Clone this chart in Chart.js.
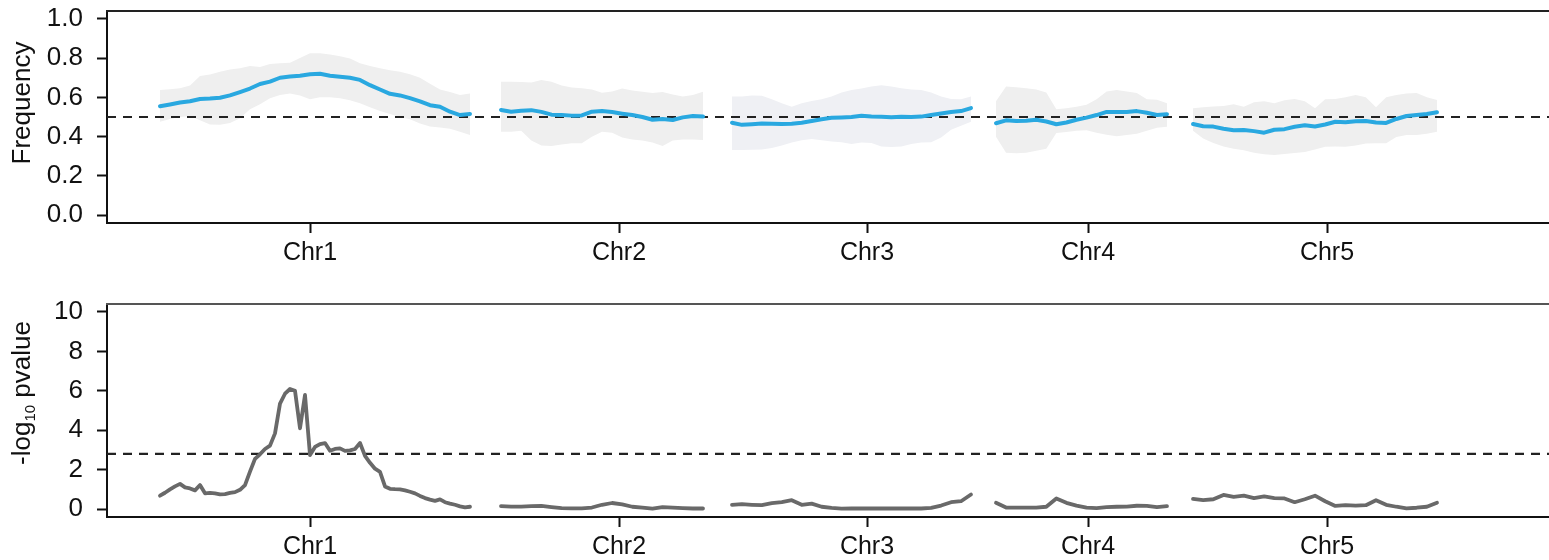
<!DOCTYPE html>
<html>
<head>
<meta charset="utf-8">
<script src="https://cdn.jsdelivr.net/npm/chart.js"></script>
<style>
  body { margin: 0; background: #fff; }
  canvas { display: block; }
</style>
</head>
<body>
<canvas id="freqChart" width="1549" height="280"></canvas>
<canvas id="pvalChart" width="1549" height="280"></canvas>
<script>
// chromosomes laid end to end (Mb) with gaps between them
const chrNames = ['Chr1', 'Chr2', 'Chr3', 'Chr4', 'Chr5'];
const chrTicks = [20.3, 51.2, 76.0, 98.1, 122.0];
const chrStart = [5.3, 39.4, 62.5, 88.9, 108.6];
const chrEnd = [36.3, 59.6, 86.4, 106.0, 133.0];
const xMax = 144.2;

const freqTicks = [0, 0.2, 0.4, 0.6, 0.8, 1.0];
const pvalTicks = [0, 2, 4, 6, 8, 10];
const freqThreshold = 0.5;
const pvalThreshold = 2.8;

// allele frequency (smoothed) and its band
const freqChr1 = [0.555,0.564,0.574,0.580,0.592,0.594,0.598,0.610,0.627,0.645,0.668,0.680,0.700,0.706,0.710,0.718,0.720,0.710,0.705,0.700,0.689,0.662,0.640,0.618,0.610,0.596,0.580,0.560,0.552,0.527,0.510,0.515];
const highChr1 = [0.638,0.642,0.647,0.660,0.709,0.716,0.730,0.742,0.748,0.760,0.755,0.770,0.774,0.776,0.800,0.825,0.825,0.818,0.810,0.798,0.774,0.760,0.748,0.738,0.731,0.718,0.700,0.670,0.640,0.627,0.612,0.620];
const lowChr1 = [0.476,0.490,0.500,0.505,0.484,0.462,0.460,0.470,0.493,0.540,0.565,0.595,0.612,0.620,0.610,0.590,0.600,0.600,0.596,0.585,0.570,0.550,0.530,0.515,0.500,0.488,0.467,0.452,0.447,0.440,0.425,0.408];

const freqChr2 = [0.536,0.527,0.532,0.535,0.526,0.512,0.510,0.507,0.508,0.527,0.530,0.525,0.517,0.510,0.500,0.486,0.490,0.485,0.498,0.505,0.502];
const highChr2 = [0.680,0.680,0.678,0.676,0.689,0.680,0.660,0.650,0.646,0.640,0.623,0.630,0.645,0.635,0.628,0.622,0.627,0.615,0.605,0.612,0.628];
const lowChr2 = [0.425,0.425,0.430,0.380,0.355,0.352,0.360,0.366,0.366,0.400,0.425,0.420,0.395,0.385,0.380,0.370,0.352,0.380,0.386,0.386,0.383];

const freqChr3 = [0.471,0.460,0.463,0.467,0.466,0.464,0.466,0.471,0.480,0.489,0.496,0.498,0.500,0.506,0.502,0.501,0.499,0.501,0.500,0.502,0.510,0.518,0.525,0.530,0.545];
const highChr3 = [0.604,0.605,0.610,0.608,0.590,0.570,0.552,0.570,0.582,0.590,0.605,0.625,0.638,0.645,0.655,0.662,0.655,0.646,0.640,0.638,0.625,0.605,0.592,0.590,0.604];
const lowChr3 = [0.332,0.332,0.333,0.335,0.342,0.355,0.370,0.382,0.388,0.382,0.375,0.372,0.362,0.370,0.368,0.350,0.347,0.350,0.362,0.370,0.372,0.395,0.435,0.455,0.476];

const freqChr4 = [0.468,0.483,0.480,0.481,0.486,0.477,0.463,0.472,0.486,0.497,0.510,0.526,0.525,0.525,0.530,0.522,0.510,0.514];
const highChr4 = [0.580,0.655,0.652,0.646,0.640,0.625,0.540,0.545,0.552,0.562,0.590,0.630,0.637,0.630,0.622,0.590,0.588,0.570];
const lowChr4 = [0.400,0.318,0.315,0.318,0.328,0.338,0.418,0.424,0.430,0.432,0.420,0.410,0.402,0.408,0.415,0.430,0.445,0.450];

const freqChr5 = [0.464,0.453,0.451,0.440,0.432,0.434,0.428,0.420,0.435,0.438,0.450,0.458,0.452,0.462,0.476,0.473,0.478,0.480,0.472,0.470,0.490,0.505,0.510,0.515,0.524];
const highChr5 = [0.544,0.550,0.553,0.556,0.565,0.552,0.575,0.580,0.570,0.585,0.592,0.580,0.545,0.590,0.592,0.600,0.612,0.600,0.550,0.600,0.612,0.620,0.622,0.600,0.587];
const lowChr5 = [0.430,0.390,0.368,0.350,0.338,0.330,0.318,0.310,0.306,0.312,0.316,0.322,0.335,0.349,0.350,0.349,0.355,0.365,0.366,0.366,0.398,0.408,0.408,0.415,0.425];

// -log10 pvalue
const pvalChr1 = [0.68,0.83,1.00,1.15,1.28,1.10,1.05,0.95,1.22,0.80,0.82,0.80,0.75,0.76,0.82,0.86,0.98,1.22,1.90,2.55,2.78,3.05,3.22,3.84,5.35,5.85,6.09,6.00,4.10,5.79,2.74,3.15,3.30,3.35,2.96,3.05,3.08,2.95,2.98,3.05,3.35,2.70,2.35,2.05,1.89,1.15,1.03,1.01,1.00,0.95,0.88,0.80,0.67,0.56,0.48,0.42,0.49,0.35,0.28,0.22,0.14,0.09,0.12];
const pvalChr2 = [0.15,0.13,0.13,0.15,0.16,0.10,0.05,0.04,0.04,0.08,0.22,0.31,0.24,0.12,0.08,0.02,0.10,0.08,0.05,0.03,0.03];
const pvalChr3 = [0.22,0.25,0.22,0.20,0.30,0.35,0.45,0.22,0.28,0.12,0.06,0.02,0.03,0.03,0.03,0.03,0.03,0.03,0.03,0.03,0.06,0.18,0.35,0.40,0.74];
const pvalChr4 = [0.32,0.08,0.08,0.08,0.08,0.12,0.54,0.32,0.18,0.08,0.05,0.10,0.12,0.13,0.17,0.16,0.10,0.15];
const pvalChr5 = [0.52,0.46,0.50,0.72,0.62,0.68,0.56,0.64,0.56,0.54,0.35,0.50,0.68,0.40,0.16,0.20,0.18,0.20,0.45,0.22,0.12,0.04,0.07,0.12,0.32];

const freqData = [freqChr1, freqChr2, freqChr3, freqChr4, freqChr5];
const highData = [highChr1, highChr2, highChr3, highChr4, highChr5];
const lowData = [lowChr1, lowChr2, lowChr3, lowChr4, lowChr5];
const pvalData = [pvalChr1, pvalChr2, pvalChr3, pvalChr4, pvalChr5];
const bandColors = ['#efefef', '#efefef', '#eff0f4', '#efefef', '#efefef'];

const FONT = "'Liberation Sans', Arial, Helvetica, sans-serif";

// windows are evenly spaced along each chromosome
function place(values, c) {
  const n = values.length;
  return values.map((v, i) => ({x: chrStart[c] + (chrEnd[c] - chrStart[c]) * i / (n - 1), y: v}));
}

function line(data, color, width, order) {
  return {data, borderColor: color, borderWidth: width, pointRadius: 0, tension: 0,
    borderCapStyle: 'round', borderJoinStyle: 'round', fill: false, order};
}

function thresholdLine(y) {
  return {data: [{x: 0, y}, {x: xMax, y}], borderColor: '#222', borderWidth: 2.2,
    borderDash: [9, 7], pointRadius: 0, fill: false, order: 1};
}

// top border of the box + y title with optional subscript
const framePlugin = {
  id: 'frame',
  afterDraw(chart, args, opts) {
    const {ctx, chartArea: a} = chart;
    ctx.save();
    ctx.strokeStyle = opts.top;
    ctx.lineWidth = 2;
    ctx.beginPath();
    ctx.moveTo(a.left - 1, a.top);
    ctx.lineTo(a.right, a.top);
    ctx.stroke();

    ctx.translate(opts.x, opts.cy);
    ctx.rotate(-Math.PI / 2);
    ctx.fillStyle = '#111';
    ctx.textBaseline = 'alphabetic';
    ctx.textAlign = 'left';
    let total = 0;
    opts.parts.forEach(p => { ctx.font = p.size + 'px ' + FONT; total += ctx.measureText(p.text).width; });
    let pos = -total / 2;
    opts.parts.forEach(p => {
      ctx.font = p.size + 'px ' + FONT;
      ctx.fillText(p.text, pos, p.dy);
      pos += ctx.measureText(p.text).width;
    });
    ctx.restore();
  }
};

function noOverflow(s) {
  s.paddingTop = 0; s.paddingBottom = 0; s.paddingLeft = 0; s.paddingRight = 0;
}

function xScale(height) {
  return {
    type: 'linear', min: 0, max: xMax,
    afterBuildTicks: s => { s.ticks = chrTicks.map(v => ({value: v})); },
    afterFit: s => { s.height = height; noOverflow(s); },
    ticks: {autoSkip: false, maxRotation: 0, padding: 5, color: '#111',
      font: {family: FONT, size: 25},
      callback: (v, i) => chrNames[i]},
    grid: {drawOnChartArea: false, drawTicks: true, tickLength: 10, tickColor: '#111', tickWidth: 2},
    border: {display: true, color: '#111', width: 2}
  };
}

function yScale(min, max, ticks, digits) {
  return {
    type: 'linear', min, max,
    afterBuildTicks: s => { s.ticks = ticks.map(v => ({value: v})); },
    afterFit: s => { s.width = 107; noOverflow(s); },
    ticks: {padding: 14, color: '#111', font: {family: FONT, size: 26},
      callback: v => v.toFixed(digits)},
    grid: {drawOnChartArea: false, drawTicks: true, tickLength: 10, tickColor: '#111', tickWidth: 2},
    border: {display: true, color: '#111', width: 2}
  };
}

const commonOpts = {
  responsive: false,
  animation: false,
  devicePixelRatio: 1,
  plugins: {legend: {display: false}, tooltip: {enabled: false}}
};

// frequency panel
const freqSets = [];
for (let c = 0; c < 5; c++) {
  freqSets.push({data: place(highData[c], c), borderWidth: 0, pointRadius: 0, tension: 0,
    backgroundColor: bandColors[c], fill: '+1', order: 3});
  freqSets.push({data: place(lowData[c], c), borderWidth: 0, pointRadius: 0, tension: 0,
    fill: false, order: 3});
}
for (let c = 0; c < 5; c++) freqSets.push(line(place(freqData[c], c), '#29a8e0', 4, 0));
freqSets.push(thresholdLine(freqThreshold));

new Chart(document.getElementById('freqChart'), {
  type: 'line',
  data: {datasets: freqSets},
  options: Object.assign({}, commonOpts, {
    layout: {padding: {top: 11, left: 0, right: 0, bottom: 0}},
    scales: {x: xScale(57), y: yScale(-0.04, 1.04, freqTicks, 1)},
    plugins: Object.assign({}, commonOpts.plugins, {
      frame: {x: 30, cy: 103, top: '#222', parts: [{text: 'Frequency', size: 26, dy: 0}]}
    })
  }),
  plugins: [framePlugin]
});

// pvalue panel
const pvalSets = [];
for (let c = 0; c < 5; c++) pvalSets.push(line(place(pvalData[c], c), '#696969', 3.8, 0));
pvalSets.push(thresholdLine(pvalThreshold));

new Chart(document.getElementById('pvalChart'), {
  type: 'line',
  data: {datasets: pvalSets},
  options: Object.assign({}, commonOpts, {
    layout: {padding: {top: 24, left: 0, right: 0, bottom: 0}},
    scales: {x: xScale(43), y: yScale(-0.4, 10.4, pvalTicks, 0)},
    plugins: Object.assign({}, commonOpts.plugins, {
      frame: {x: 30, cy: 113, top: '#555', parts: [
        {text: '-log', size: 26, dy: 0},
        {text: '10', size: 15, dy: 5},
        {text: ' pvalue', size: 26, dy: 0}
      ]}
    })
  }),
  plugins: [framePlugin]
});
</script>
</body>
</html>
